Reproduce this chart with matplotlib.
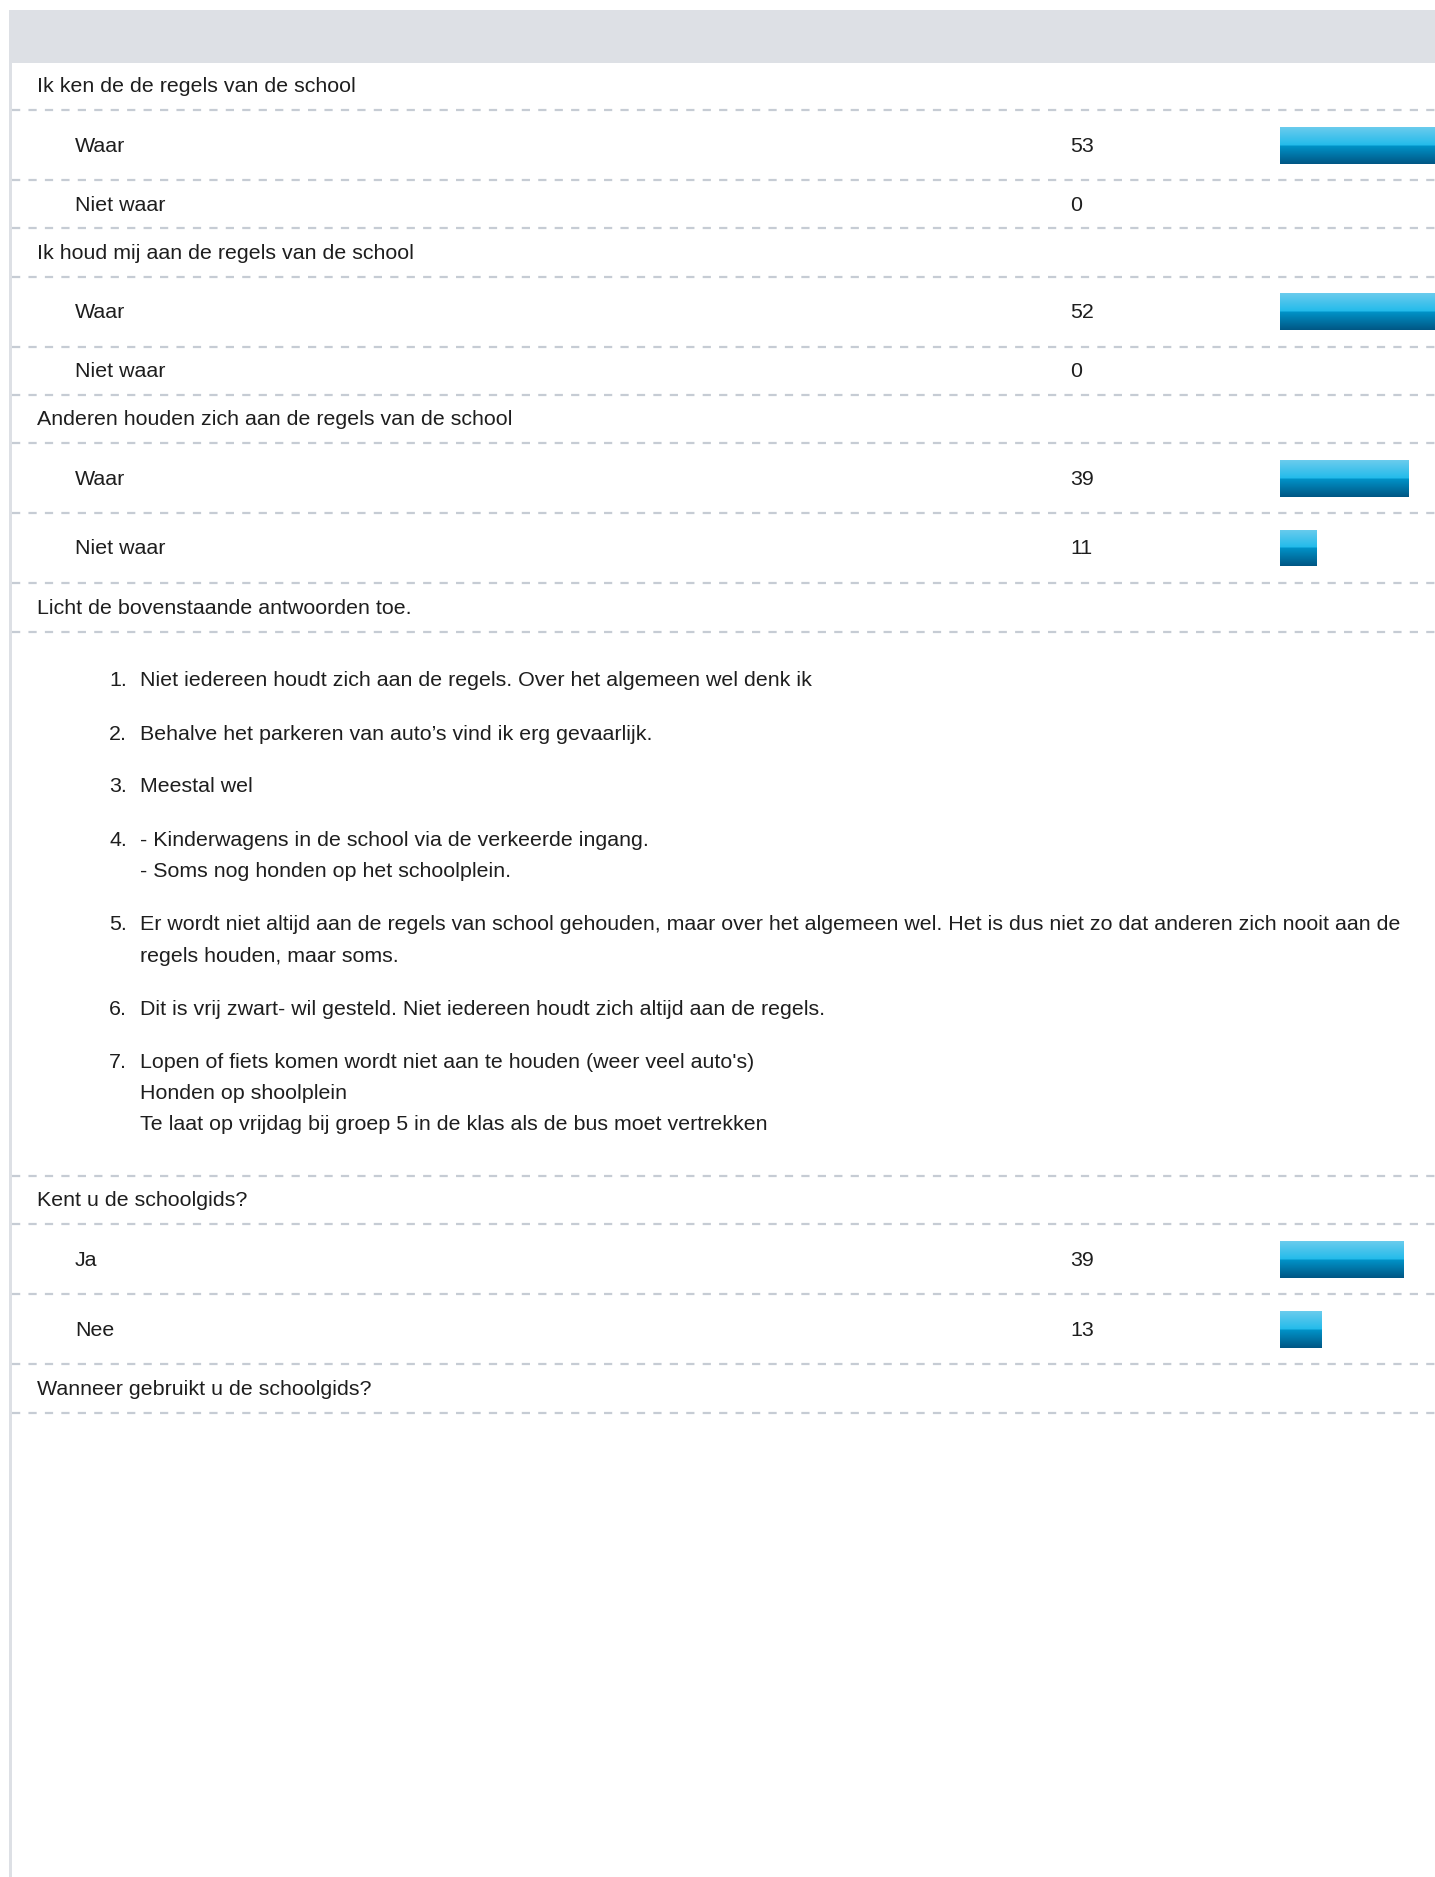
import numpy as np
import matplotlib
matplotlib.use('Agg')
import matplotlib.pyplot as plt

plt.rcParams['font.family'] = ['Liberation Sans', 'DejaVu Sans']

# survey data
questions = [
    "Ik ken de de regels van de school",
    "Ik houd mij aan de regels van de school",
    "Anderen houden zich aan de regels van de school",
    "Licht de bovenstaande antwoorden toe.",
    "Kent u de schoolgids?",
    "Wanneer gebruikt u de schoolgids?",
]
answers = [["Waar", "Niet waar"], ["Waar", "Niet waar"], ["Waar", "Niet waar"],
           [], ["Ja", "Nee"], []]
counts = [[53, 0], [52, 0], [39, 11], [], [39, 13], []]

comments = [
    ["Niet iedereen houdt zich aan de regels. Over het algemeen wel denk ik"],
    ["Behalve het parkeren van auto\u2019s vind ik erg gevaarlijk."],
    ["Meestal wel"],
    ["- Kinderwagens in de school via de verkeerde ingang.",
     "- Soms nog honden op het schoolplein."],
    ["Er wordt niet altijd aan de regels van school gehouden, maar over het algemeen wel. Het is dus niet zo dat anderen zich nooit aan de",
     "regels houden, maar soms."],
    ["Dit is vrij zwart- wil gesteld. Niet iedereen houdt zich altijd aan de regels."],
    ["Lopen of fiets komen wordt niet aan te houden (weer veel auto's)",
     "Honden op shoolplein",
     "Te laat op vrijdag bij groep 5 in de klas als de bus moet vertrekken"],
]

W, H = 1435, 1877
fig = plt.figure(figsize=(W / 100, H / 100), dpi=100)
ax = fig.add_axes([0, 0, 1, 1])
ax.set_xlim(0, W)
ax.set_ylim(H, 0)
ax.axis('off')

FS = 15.4
TXT = '#1e1e1e'
GRID = '#c6ccd4'
BAR_X = 1280
BAR_MAX = 165

# header band + left border
ax.add_patch(plt.Rectangle((9, 10), W - 9, 53, color='#dde0e5', lw=0))
ax.add_patch(plt.Rectangle((9, 10), 3, H - 10, color='#dde0e5', lw=0))


def dash(y):
    ax.plot([12, W], [y, y], color=GRID, lw=1.6, ls=(0, (3.7, 3.7)),
            solid_capstyle='butt', dash_capstyle='butt')


# gradient image for bars
g = np.linspace(0, 1, 100)
top = np.array([0.42, 0.80, 0.93])
mid1 = np.array([0.13, 0.73, 0.92])
mid2 = np.array([0.0, 0.58, 0.79])
bot = np.array([0.0, 0.34, 0.52])
grad = np.zeros((100, 1, 3))
for i, t in enumerate(g):
    if t < 0.5:
        s = t / 0.5
        grad[i, 0] = top * (1 - s) + mid1 * s
    else:
        s = (t - 0.5) / 0.5
        grad[i, 0] = mid2 * (1 - s) + bot * s


def gbar(yc, value, total):
    w = value / total * BAR_MAX
    if w <= 0:
        return
    b = ax.barh([yc], [w], left=BAR_X, height=37, color='none', lw=0)[0]
    im = ax.imshow(grad, extent=(BAR_X, BAR_X + w, yc + 18.5, yc - 18.5),
                   aspect='auto', interpolation='bilinear', zorder=3)
    im.set_clip_path(b)


Q_H, BAR_H, ZERO_H = 48.5, 70, 48
y = 61.5
for qi, q in enumerate(questions):
    ax.text(37, y + Q_H / 2 + 1, q, fontsize=FS, color=TXT, va='center')
    y += Q_H
    dash(y)
    if qi == 3:
        ly = y + 49.5
        for item_i, lines in enumerate(comments):
            ax.text(109, ly, f"{item_i + 1}.", fontsize=FS, color=TXT, va='center')
            for li, line in enumerate(lines):
                ax.text(140, ly, line, fontsize=FS, color=TXT, va='center')
                if li < len(lines) - 1:
                    ly += 31.5
            ly += 53
        y = 1175.7
        dash(y)
        continue
    total = sum(counts[qi]) if counts[qi] else 1
    for a, c in zip(answers[qi], counts[qi]):
        rh = BAR_H if c > 0 else ZERO_H
        yc = y + rh / 2
        ax.text(75, yc + 1, a, fontsize=FS, color=TXT, va='center')
        ax.text(1070, yc + 1, str(c), fontsize=FS, color=TXT, va='center')
        gbar(yc, c, total)
        y += rh
        dash(y)

fig.savefig('out.png', dpi=100, facecolor='white')
